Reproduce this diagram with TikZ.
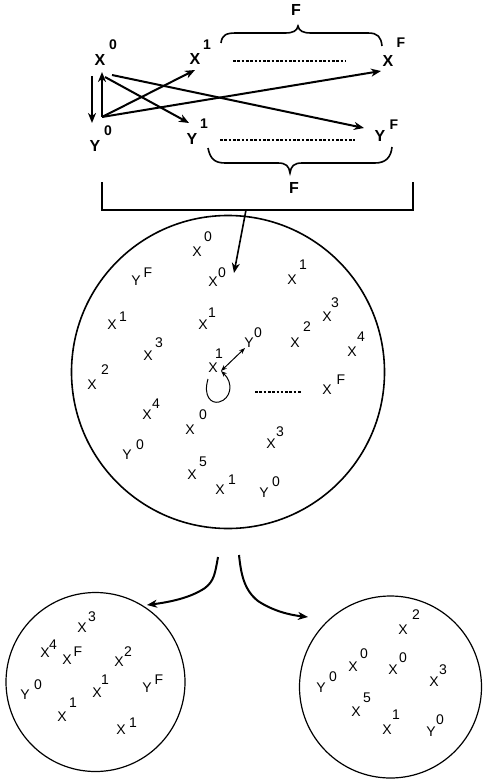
\documentclass[tikz,border=0pt]{standalone}
\usepackage{fontspec}
\setmainfont{Liberation Sans}
\usetikzlibrary{arrows.meta}
\newcommand\lbl[7]{\node[lab] (#1) at (#2,#3) {#6}; \node[lab] (#1s) at (#4,#5) {#7};}
\newcommand\blbl[7]{\node[big] (#1) at (#2,#3) {#6}; \node[bigsup] (#1s) at (#4,#5) {#7};}
\begin{document}
\begin{tikzpicture}[x=1pt,y=-1pt,
  big/.style={font=\fontsize{16}{16}\selectfont\bfseries, inner sep=0pt},
  bigsup/.style={font=\fontsize{14}{14}\selectfont\bfseries, inner sep=0pt},
  lab/.style={font=\fontsize{14}{14}\selectfont, inner sep=0pt},
  thickarrow/.style={line width=2pt, -{Stealth[length=10pt,width=8pt,inset=3pt]}},
  thinarrow/.style={line width=1pt},
  dotline/.style={line width=2.6pt, dash pattern=on 2.6pt off 1.7pt},
  ring/.style={circle, draw, line width=1.6pt, inner sep=0pt},
  edge/.style={line width=1.6pt}
]
\useasboundingbox (0,0) rectangle (483,781);

% ---- top part ----
\blbl{X0}{100}{60}{113}{45}{X}{0}
\blbl{Y0}{95}{146}{108}{131}{Y}{0}
\blbl{X1}{195}{59}{207}{45}{X}{1}
\blbl{Y1}{192}{139}{204}{124}{Y}{1}
\blbl{XF}{388}{61}{401}{43}{X}{F}
\blbl{YF}{380}{136}{394}{125}{Y}{F}
\node[big] (Ftop) at (296,10) {F};
\node[big] (Fbot) at (294,188) {F};

\coordinate (x0a) at (92,76);
\coordinate (x0b) at (92,123);
\coordinate (y0c) at (102,117);
\coordinate (y0t) at (102,72);
\coordinate (x0c1) at (105,77);
\coordinate (x0c2) at (112,75);
\coordinate (x1t) at (195,70);
\coordinate (xFt) at (381,71);
\coordinate (y1t) at (189,123);
\coordinate (yFt) at (364,128);

\draw[thickarrow] (x0a) -- (x0b);
\draw[thickarrow] (y0c) -- (y0t);
\draw[thickarrow] (y0c) -- (x1t);
\draw[thickarrow] (y0c) -- (xFt);
\draw[thickarrow] (x0c1) -- (y1t);
\draw[thickarrow] (x0c2) -- (yFt);

\draw[dotline] (233,61) -- (345,61);
\draw[dotline] (220,140) -- (355,140);

% braces
\draw[line width=1.6pt] (221,43) .. controls (222,35) and (226,33) .. (236,33) -- (285,33)
  .. controls (293,33) and (297,31) .. (298,26) .. controls (299,31) and (303,33) .. (311,33)
  -- (368,33) .. controls (378,33) and (381,37) .. (382,46);
\draw[line width=1.6pt] (208,148) .. controls (210,158) and (214,163) .. (225,163) -- (278,163)
  .. controls (286,163) and (289,166) .. (290,173) .. controls (291,166) and (294,163) .. (302,163)
  -- (375,163) .. controls (386,163) and (391,157) .. (392,147);

% bracket
\coordinate (bl) at (102,182);
\coordinate (br) at (413,182);
\coordinate (stem) at (246,210);
\draw[edge] (bl) -- (102,210) -- (413,210) -- (br);

% ---- big circle ----
\node[ring, minimum size=313pt] (bigc) at (228,372) {};
\coordinate (stemend) at (234,273);
\draw[thickarrow, line width=1.6pt] (stem) -- (stemend);

\lbl{a1}{197}{252}{208}{237}{X}{0}
\lbl{a2}{213}{282}{222}{273}{X}{0}
\lbl{a3}{136}{281}{148}{273}{Y}{F}
\lbl{a4}{292}{280}{303}{265}{X}{1}
\lbl{a5}{112}{325}{123}{317}{X}{1}
\lbl{a6}{203}{325}{212}{313}{X}{1}
\lbl{a7}{327}{317}{335}{303}{X}{3}
\lbl{a8}{249}{343}{258}{333}{Y}{0}
\lbl{a9}{295}{343}{307}{327}{X}{2}
\lbl{a10}{352}{352}{361}{337}{X}{4}
\lbl{a11}{148}{356}{159}{343}{X}{3}
\lbl{a12}{213}{368}{219}{354}{X}{1}
\lbl{a13}{92}{385}{105}{370}{X}{2}
\lbl{a14}{327}{390}{341}{380}{X}{F}
\lbl{a15}{147}{415}{156}{404}{X}{4}
\lbl{a16}{190}{430}{203}{415}{X}{0}
\lbl{a17}{271}{444}{280}{432}{X}{3}
\lbl{a18}{127}{455}{140}{445}{Y}{0}
\lbl{a19}{192}{475}{203}{462}{X}{5}
\lbl{a20}{220}{490}{232}{480}{X}{1}
\lbl{a21}{264}{493}{276}{482}{Y}{0}

\draw[dotline, line width=2.4pt] (255,392) -- (301,392);
\coordinate (da) at (221,371);
\coordinate (db) at (245,348);
\draw[thinarrow, {Stealth[length=6pt,width=4.5pt]}-{Stealth[length=6pt,width=4.5pt]}] (da) -- (db);
\coordinate (lp) at (208,379);
\draw[thinarrow, -{Stealth[length=6pt,width=4.5pt]}] (lp) .. controls (203,396) and (211,404) .. (219,402)
  .. controls (231,399) and (234,383) .. (da);

% ---- split arrows ----
\coordinate (s1) at (218,557);
\coordinate (s2) at (239,555);
\coordinate (t1) at (147,605);
\coordinate (t2) at (308,617);
\draw[thickarrow] (s1) .. controls (215,574) and (214,581) .. (205,588) .. controls (190,598) and (170,602) .. (t1);
\draw[thickarrow] (s2) .. controls (241,574) and (244,590) .. (258,601) .. controls (273,611) and (290,615) .. (t2);

% ---- left small circle ----
\node[ring, line width=1.2pt, minimum size=179pt] (lc) at (95.5,682) {};
\lbl{b1}{82}{628}{92}{617}{X}{3}
\lbl{b2}{45}{653}{53}{645}{X}{4}
\lbl{b3}{67}{660}{78}{652}{X}{F}
\lbl{b4}{119}{662}{128}{652}{X}{2}
\lbl{b5}{25}{695}{38}{685}{Y}{0}
\lbl{b6}{97}{693}{105}{680}{X}{1}
\lbl{b7}{147}{688}{159}{680}{Y}{F}
\lbl{b8}{62}{717}{73}{703}{X}{1}
\lbl{b9}{121}{730}{133}{723}{X}{1}

% ---- right small circle ----
\node[ring, line width=1.2pt, minimum size=182pt] (rc) at (390.5,687) {};
\lbl{c1}{403}{630}{416}{615}{X}{2}
\lbl{c2}{321}{688}{333}{677}{Y}{0}
\lbl{c3}{353}{667}{364}{654}{X}{0}
\lbl{c4}{393}{670}{403}{658}{X}{0}
\lbl{c5}{434}{682}{443}{670}{X}{3}
\lbl{c6}{356}{712}{367}{698}{X}{5}
\lbl{c7}{387}{730}{396}{715}{X}{1}
\lbl{c8}{431}{732}{440}{720}{Y}{0}
\end{tikzpicture}
\end{document}
